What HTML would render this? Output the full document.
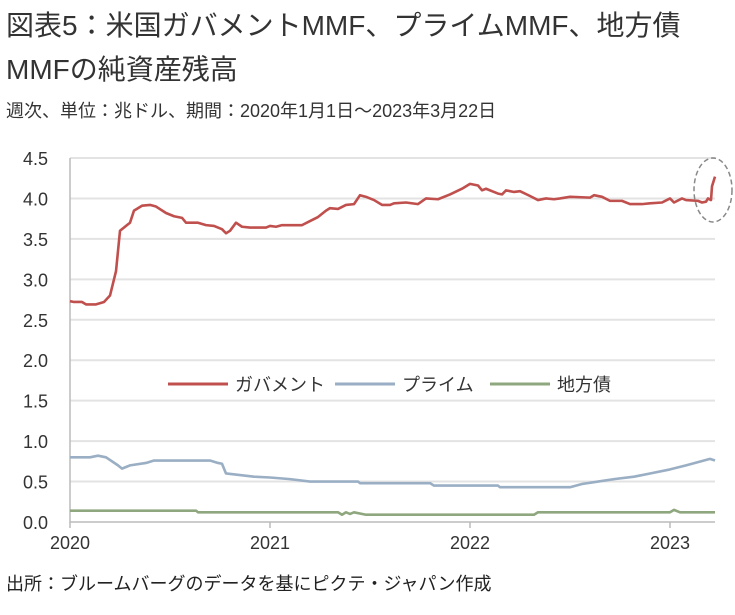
<!DOCTYPE html>
<html><head><meta charset="utf-8"><style>
body{margin:0;width:735px;height:615px;background:#fff;font-family:"Liberation Sans","Noto Sans CJK JP",sans-serif;color:#222;overflow:hidden;position:relative}
.t{position:absolute;left:6px;white-space:nowrap}
</style></head><body>
<div class="t" style="top:4px;font-size:28px;line-height:44px;color:#333">図表5：米国ガバメントMMF、プライムMMF、地方債<br>MMFの純資産残高</div>
<div class="t" style="top:97px;font-size:18px;color:#333">週次、単位：兆ドル、期間：2020年1月1日～2023年3月22日</div>
<div class="t" style="top:570px;font-size:18px;color:#222">出所：ブルームバーグのデータを基にピクテ・ジャパン作成</div>
<svg id="c" width="735" height="615" style="position:absolute;left:0;top:0"></svg>
<script>
const yTicks=[0,0.5,1,1.5,2,2.5,3,3.5,4,4.5];
const xTicks=[2020,2021,2022,2023];
const govX=[2020,2020.02,2020.06,2020.08,2020.13,2020.17,2020.2,2020.23,2020.25,2020.3,2020.32,2020.36,2020.4,2020.43,2020.48,2020.52,2020.56,2020.58,2020.64,2020.68,2020.72,2020.76,2020.78,2020.8,2020.83,2020.86,2020.9,2020.98,2021.0,2021.03,2021.06,2021.1,2021.16,2021.2,2021.24,2021.28,2021.3,2021.34,2021.38,2021.42,2021.45,2021.48,2021.52,2021.56,2021.6,2021.62,2021.68,2021.74,2021.78,2021.84,2021.9,2021.96,2022.0,2022.04,2022.06,2022.08,2022.14,2022.16,2022.18,2022.22,2022.25,2022.3,2022.34,2022.38,2022.42,2022.45,2022.5,2022.6,2022.62,2022.66,2022.7,2022.76,2022.8,2022.86,2022.9,2022.96,2023.0,2023.02,2023.06,2023.08,2023.14,2023.16,2023.18,2023.19,2023.205,2023.21,2023.225];
const govY=[2.73,2.72,2.72,2.69,2.69,2.72,2.8,3.1,3.6,3.7,3.85,3.91,3.92,3.9,3.82,3.78,3.76,3.7,3.7,3.67,3.66,3.62,3.57,3.6,3.7,3.65,3.64,3.64,3.66,3.65,3.67,3.67,3.67,3.72,3.77,3.85,3.88,3.87,3.92,3.93,4.04,4.02,3.98,3.92,3.92,3.94,3.95,3.93,4.0,3.99,4.05,4.12,4.18,4.16,4.1,4.12,4.06,4.05,4.1,4.08,4.09,4.03,3.98,4.0,3.99,4.0,4.02,4.01,4.04,4.02,3.97,3.97,3.93,3.93,3.94,3.95,4.0,3.95,4.0,3.98,3.97,3.95,3.96,4.0,3.98,4.15,4.27];
const primeX=[2020,2020.1,2020.14,2020.18,2020.24,2020.26,2020.3,2020.38,2020.42,2020.7,2020.74,2020.76,2020.78,2020.85,2020.92,2021.0,2021.1,2021.2,2021.44,2021.45,2021.8,2021.82,2022.14,2022.15,2022.5,2022.56,2022.64,2022.72,2022.82,2022.9,2023.0,2023.08,2023.14,2023.2,2023.225];
const primeY=[0.8,0.8,0.82,0.8,0.7,0.66,0.7,0.73,0.76,0.76,0.73,0.72,0.6,0.58,0.56,0.55,0.53,0.5,0.5,0.48,0.48,0.45,0.45,0.43,0.43,0.47,0.5,0.53,0.56,0.6,0.65,0.7,0.74,0.78,0.76];
const muniX=[2020,2020.63,2020.64,2021.34,2021.36,2021.38,2021.4,2021.42,2021.48,2022.32,2022.34,2023.0,2023.02,2023.05,2023.225];
const muniY=[0.14,0.14,0.12,0.12,0.09,0.12,0.1,0.12,0.09,0.09,0.12,0.12,0.15,0.12,0.12];
const NS="http://www.w3.org/2000/svg";
const svg=document.getElementById('c');
const X=v=>70+(v-2020)*200;
const Y=v=>522-v*(364/4.5);
function mk(t,a,p){const e=document.createElementNS(NS,t);for(const k in a)e.setAttribute(k,a[k]);(p||svg).appendChild(e);return e;}
yTicks.forEach(v=>{
 if(v>0){const g=mk('line',{x1:70,x2:715,y1:Y(v),y2:Y(v),stroke:'#e3e3e3','stroke-width':2});
 
 }
 const t=mk('text',{x:48,y:Y(v)+7,'text-anchor':'end','font-size':18,fill:'#333','font-family':'Liberation Sans Narrow, Liberation Sans, sans-serif'});
 t.textContent=v.toFixed(1);
 
 
});
const ax=mk('path',{d:`M70 ${Y(4.5)}V522H715`,stroke:'#bbb','stroke-width':1.5,fill:'none'});


xTicks.forEach(v=>{
 mk('line',{x1:X(v),x2:X(v),y1:522,y2:528,stroke:'#bbb','stroke-width':1.5});
 const t=mk('text',{x:X(v),y:549,'text-anchor':'middle','font-size':18,fill:'#333','font-family':'Liberation Sans Narrow, Liberation Sans, sans-serif'});
 t.textContent=v;
 
 
});
function series(xs,ys,col,name){
 const p=mk('polyline',{points:xs.map((x,i)=>X(x)+','+Y(ys[i])).join(' '),fill:'none',stroke:col,'stroke-width':2.6,'stroke-linejoin':'round'});
 
 
}
series(muniX,muniY,'#8fa77e','municipal-line');
series(primeX,primeY,'#9aaec4','prime-line');
series(govX,govY,'#c0504d','government-line');
const el=mk('ellipse',{cx:713,cy:190,rx:19,ry:32,fill:'none',stroke:'#888','stroke-width':1.5,'stroke-dasharray':'5,3'});


const leg=[['ガバメント','#c0504d',168],['プライム','#9aaec4',335],['地方債','#8fa77e',490]];
leg.forEach(l=>{
 const g=mk('g',{});
 
 
 mk('line',{x1:l[2],x2:l[2]+60,y1:384,y2:384,stroke:l[1],'stroke-width':3},g);
 const t=mk('text',{x:l[2]+67,y:391,'font-size':18,fill:'#333'},g);
 t.textContent=l[0];
});
</script>
</body></html>
